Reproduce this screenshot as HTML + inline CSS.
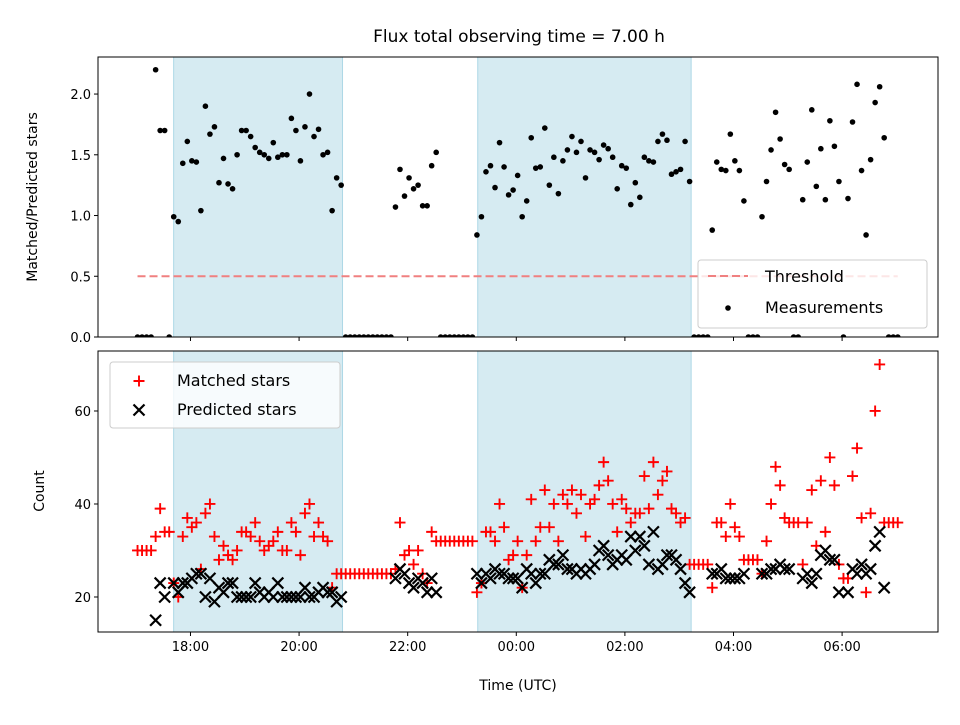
<!DOCTYPE html>
<html><head><meta charset="utf-8">
<style>
html,body{margin:0;padding:0;background:#fff;}
svg text{font-family:"DejaVu Sans","Liberation Sans",sans-serif;}
</style></head>
<body>
<svg id="chart" width="960" height="720" viewBox="0 0 960 720" xmlns="http://www.w3.org/2000/svg"></svg>
<script>
// ---- data ----
const startHour = 17.025;           // first sample time (hours, UTC)
const stepMinutes = 5;              // sampling cadence
const ratioValues = [0,0,0,0,2.20,1.70,1.70,0,0.99,0.95,1.43,1.61,1.45,1.44,1.04,1.90,1.67,1.73,1.27,1.47,1.26,1.22,1.50,1.70,1.70,1.65,1.56,1.52,1.50,1.47,1.60,1.48,1.50,1.50,1.80,1.70,1.45,1.73,2.00,1.65,1.71,1.50,1.52,1.04,1.31,1.25,
0,0,0,0,0,0,0,0,0,0,0,
1.07,1.38,1.16,1.31,1.22,1.25,1.08,1.08,1.41,1.52,
0,0,0,0,0,0,0,0,
0.84,0.99,1.36,1.41,1.23,1.60,1.40,1.17,1.21,1.33,0.99,1.12,1.64,1.39,1.40,1.72,1.25,1.48,1.18,1.45,1.54,1.65,1.52,1.61,1.31,1.54,1.52,1.46,1.58,1.55,1.48,1.22,1.41,1.39,1.09,1.27,1.15,1.48,1.45,1.44,1.61,1.67,1.62,1.34,1.36,1.38,1.61,1.28,
0,0,0,0,
0.88,1.44,1.38,1.37,1.67,1.45,1.37,1.12,
0,0,0,
0.99,1.28,1.54,1.85,1.63,1.42,1.38,
0,0,
1.13,1.44,1.87,1.24,1.55,1.13,1.78,1.57,1.28,0,1.14,1.77,2.08,1.37,0.84,1.46,1.93,2.06,1.64,
0,0,0];
const matchedValues = [30,30,30,30,33,39,34,34,23,20,33,37,35,36,26,38,40,33,28,31,29,28,30,34,34,33,36,32,30,31,32,34,30,30,36,34,29,38,40,33,36,33,32,22,25,25,
25,25,25,25,25,25,25,25,25,25,25,
26,36,29,30,27,30,25,23,34,32,
32,32,32,32,32,32,32,32,
21,23,34,34,32,40,35,28,29,32,22,29,41,32,35,43,35,40,32,42,40,43,38,42,33,40,41,44,49,45,40,34,41,39,36,38,38,46,39,49,42,45,47,39,38,36,37,27,
27,27,27,27,
22,36,36,33,40,35,33,28,
28,28,28,
25,32,40,48,44,37,36,
36,36,
27,36,43,31,45,34,50,44,27,24,24,46,52,37,21,38,60,70,36,
36,36,36];
const predictedValues = [null,null,null,null,15,23,20,null,23,21,23,23,24,25,25,20,24,19,22,21,23,23,20,20,20,20,23,21,20,21,20,23,20,20,20,20,20,22,20,20,21,22,21,21,19,20,
null,null,null,null,null,null,null,null,null,null,null,
24,26,25,23,22,24,23,21,24,21,
null,null,null,null,null,null,null,null,
25,23,25,24,26,25,25,24,24,24,22,26,25,23,25,25,28,27,27,29,26,26,25,26,25,26,27,30,31,29,27,28,29,28,33,30,33,31,27,34,26,27,29,29,28,26,23,21,
null,null,null,null,
25,25,26,24,24,24,24,25,
null,null,null,
25,25,26,26,27,26,26,
null,null,
24,25,23,25,29,30,28,28,21,null,21,26,25,27,25,26,31,34,22,
null,null,null];
const thresholdValue = 0.5;
const nightBands = [[17.69, 20.80],[23.29, 27.22]];
const topTicks = [0.0,0.5,1.0,1.5,2.0];
const bottomTicks = [20,40,60];
const timeTicks = [18,20,22,24,26,28,30];
const timeTickLabels = ["18:00","20:00","22:00","00:00","02:00","04:00","06:00"];
const titleText = "Flux total observing time = 7.00 h";

// ---- layout ----
const NS = "http://www.w3.org/2000/svg";
const svg = document.getElementById("chart");
const L = 98, R = 938;
const top1 = 57, bot1 = 337, top2 = 351, bot2 = 632;
const xMin = 16.297, xMax = 31.766;
const y1Min = 0, y1Max = 2.305;
const y2Min = 12.47, y2Max = 72.9;
const xS = t => L + (t - xMin) / (xMax - xMin) * (R - L);
const y1S = v => bot1 - (v - y1Min) / (y1Max - y1Min) * (bot1 - top1);
const y2S = v => bot2 - (v - y2Min) / (y2Max - y2Min) * (bot2 - top2);
const times = ratioValues.map((_, i) => startHour + i * stepMinutes / 60);

function el(tag, attrs, parent) {
  const e = document.createElementNS(NS, tag);
  for (const k in attrs) e.setAttribute(k, attrs[k]);
  (parent || svg).appendChild(e);
  return e;
}
function txt(s, attrs, parent) { const t = el("text", attrs, parent); t.textContent = s; return t; }

const defs = el("defs", {});
const c1 = el("clipPath", {id: "clip1"}, defs); el("rect", {x: L, y: top1, width: R - L, height: bot1 - top1}, c1);
const c2 = el("clipPath", {id: "clip2"}, defs); el("rect", {x: L, y: top2, width: R - L, height: bot2 - top2}, c2);

const title = txt(titleText, {x: 519, y: 42, "text-anchor": "middle", "font-size": "17"});



// ---- top panel ----
const g1 = el("g", {"clip-path": "url(#clip1)"});


nightBands.forEach(b => {
  const r = el("rect", {x: xS(b[0]), y: top1, width: xS(b[1]) - xS(b[0]), height: bot1 - top1, fill: "#add8e6", "fill-opacity": 0.5, stroke: "#add8e6", "stroke-width": 1}, g1);
  
  
});
const thr = el("line", {x1: xS(times[0]), x2: xS(times[times.length - 1]), y1: y1S(thresholdValue), y2: y1S(thresholdValue), stroke: "#f08080", "stroke-width": 2, "stroke-dasharray": "8,4"}, g1);


ratioValues.forEach((v, i) => {
  const c = el("circle", {cx: xS(times[i]), cy: y1S(v), r: 2.8, fill: "#000"}, g1);
  
  
});

// ---- bottom panel ----
const g2 = el("g", {"clip-path": "url(#clip2)"});


nightBands.forEach(b => {
  const r = el("rect", {x: xS(b[0]), y: top2, width: xS(b[1]) - xS(b[0]), height: bot2 - top2, fill: "#add8e6", "fill-opacity": 0.5, stroke: "#add8e6", "stroke-width": 1}, g2);
  
  
});
matchedValues.forEach((v, i) => {
  if (v === null) return;
  const x = xS(times[i]), y = y2S(v), s = 5.5;
  const p = el("path", {d: `M${x - s},${y}H${x + s}M${x},${y - s}V${y + s}`, stroke: "#ff0000", "stroke-width": 1.9, fill: "none"}, g2);
  
  
});
predictedValues.forEach((v, i) => {
  if (v === null) return;
  const x = xS(times[i]), y = y2S(v), s = 5.5;
  const p = el("path", {d: `M${x - s},${y - s}L${x + s},${y + s}M${x - s},${y + s}L${x + s},${y - s}`, stroke: "#000", "stroke-width": 2.2, fill: "none"}, g2);
  
  
});

// ---- axes ----
function frame(top, bot, name) {
  const r = el("rect", {x: L, y: top, width: R - L, height: bot - top, fill: "none", stroke: "#000", "stroke-width": 1});
  
  
}
frame(top1, bot1, "ratio-axes-frame");
frame(top2, bot2, "count-axes-frame");

topTicks.forEach(v => {
  const y = y1S(v);
  el("line", {x1: L - 4, x2: L, y1: y, y2: y, stroke: "#000"});
  const t = txt(v.toFixed(1), {x: L - 7, y: y + 5, "text-anchor": "end", "font-size": "13"});
  
  
});
bottomTicks.forEach(v => {
  const y = y2S(v);
  el("line", {x1: L - 4, x2: L, y1: y, y2: y, stroke: "#000"});
  const t = txt(String(v), {x: L - 7, y: y + 5, "text-anchor": "end", "font-size": "13"});
  
  
});
timeTicks.forEach((h, i) => {
  const x = xS(h);
  el("line", {x1: x, x2: x, y1: bot1, y2: bot1 + 4, stroke: "#000"});
  el("line", {x1: x, x2: x, y1: bot2, y2: bot2 + 4, stroke: "#000"});
  const t = txt(timeTickLabels[i], {x: x, y: bot2 + 19, "text-anchor": "middle", "font-size": "13"});
  
  
});

const yl1 = txt("Matched/Predicted stars", {x: 0, y: 0, "text-anchor": "middle", "font-size": "14", transform: "translate(37,197) rotate(-90)"});


const yl2 = txt("Count", {x: 0, y: 0, "text-anchor": "middle", "font-size": "14", transform: "translate(44,491) rotate(-90)"});


const xl = txt("Time (UTC)", {x: 518, y: 690, "text-anchor": "middle", "font-size": "14"});



// ---- legends ----
const lg1 = el("g", {});


el("rect", {x: 698, y: 260, width: 229, height: 68, rx: 3, fill: "#fff", "fill-opacity": 0.8, stroke: "#ccc"}, lg1);
el("line", {x1: 708, x2: 748, y1: 276, y2: 276, stroke: "#f08080", "stroke-width": 2, "stroke-dasharray": "8,4"}, lg1);
txt("Threshold", {x: 765, y: 282, "font-size": "16"}, lg1);
el("circle", {cx: 728, cy: 308, r: 2.8, fill: "#000"}, lg1);
txt("Measurements", {x: 765, y: 313, "font-size": "16"}, lg1);

const lg2 = el("g", {});


el("rect", {x: 110, y: 362, width: 230, height: 66, rx: 3, fill: "#fff", "fill-opacity": 0.8, stroke: "#ccc"}, lg2);
el("path", {d: "M133.5,381H144.5M139,375.5V386.5", stroke: "#ff0000", "stroke-width": 1.9}, lg2);
txt("Matched stars", {x: 177, y: 386, "font-size": "16"}, lg2);
el("path", {d: "M133.5,404.5L144.5,415.5M133.5,415.5L144.5,404.5", stroke: "#000", "stroke-width": 2.2}, lg2);
txt("Predicted stars", {x: 177, y: 415, "font-size": "16"}, lg2);
</script>
</body></html>
